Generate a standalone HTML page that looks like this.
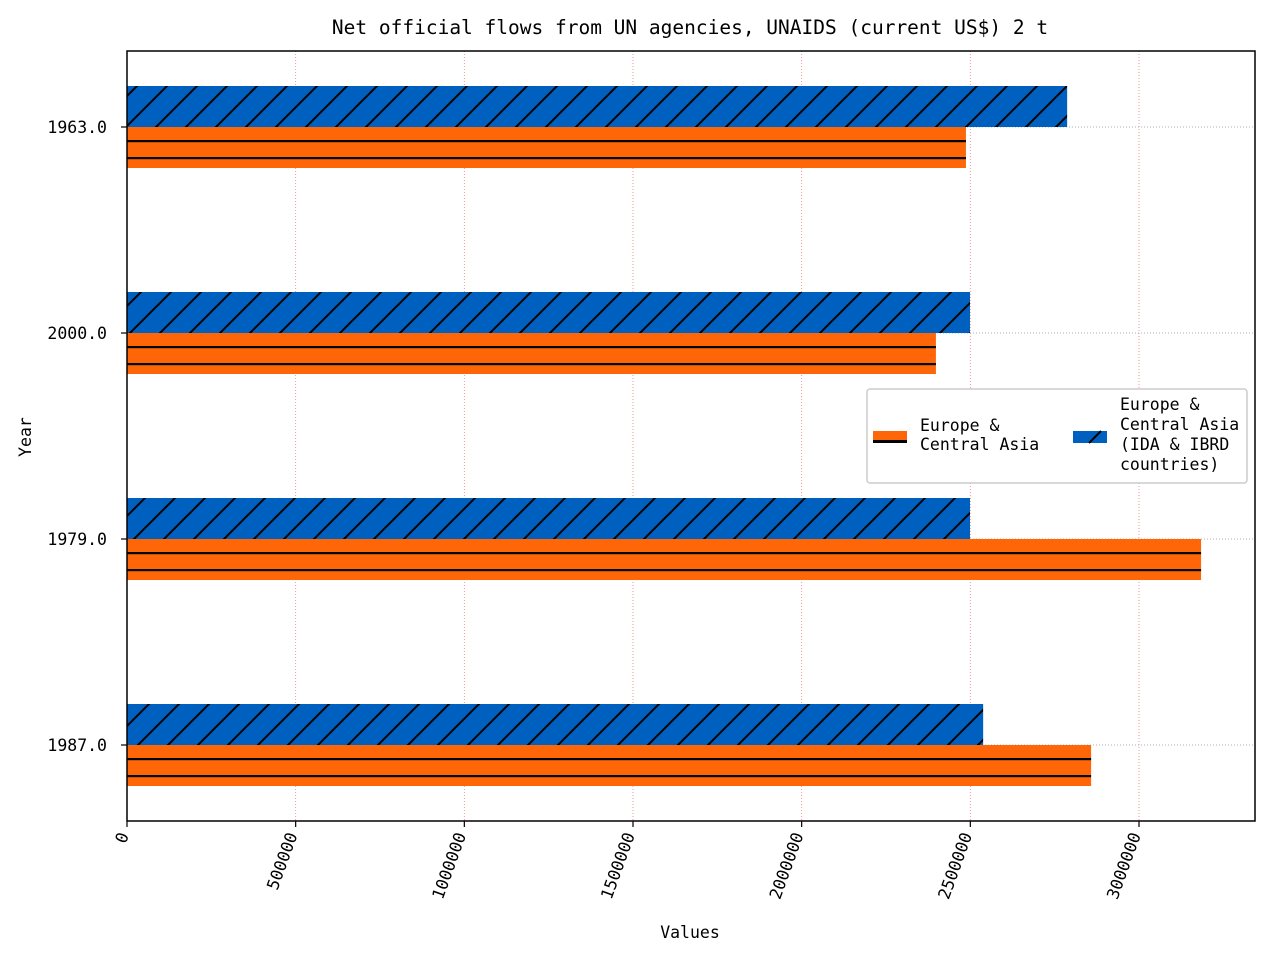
<!DOCTYPE html>
<html><head><meta charset="utf-8"><style>
body{margin:0;background:#fff}
svg text{font-family:"DejaVu Sans Mono","Liberation Mono",monospace;fill:#000}
</style></head><body>
<svg id="chart" width="1280" height="960" xmlns="http://www.w3.org/2000/svg">
<defs>
<pattern id="dd" patternUnits="userSpaceOnUse" width="30" height="30" x="7" y="6">
<rect width="30" height="30" fill="#0060bf"/>
<path d="M-3,33 L33,-3 M-33,33 L3,-3 M27,33 L63,-3" stroke="#000" stroke-width="2"/></pattern>
</defs>
<rect x="0" y="0" width="1280" height="960" fill="#fff"/>
<text x="690" y="34" font-size="19.5" text-anchor="middle">Net official flows from UN agencies, UNAIDS (current US$) 2 t</text>
<g id="grid"></g>
<g id="bars"></g>
<rect x="127" y="51" width="1128" height="770" fill="none" stroke="#000" stroke-width="1.5"/>
<g id="axes"></g>
<text x="690" y="938" font-size="16.5" text-anchor="middle">Values</text>
<text transform="translate(31,437) rotate(-90)" font-size="16.5" text-anchor="middle">Year</text>
<g>
<rect x="867" y="389" width="380" height="94" rx="3" fill="#fff" stroke="#ccc" stroke-width="1.5"/>
<rect x="873" y="431" width="34" height="10" fill="#ff6608"/>
<rect x="873" y="440" width="34" height="3" fill="#000"/>
<text font-size="16.5" x="920" y="431">Europe &amp;<tspan x="920" dy="19">Central Asia</tspan></text>
<rect x="1073" y="431" width="34" height="12" fill="#0060bf"/>
<path d="M1089,443 L1101,431" stroke="#000" stroke-width="2"/>
<text font-size="16.5" x="1120" y="410">Europe &amp;<tspan x="1120" dy="20">Central Asia</tspan><tspan x="1120" dy="20">(IDA &amp; IBRD</tspan><tspan x="1120" dy="20">countries)</tspan></text>
</g>
</svg>
<script>
const categories = ["1963.0","2000.0","1979.0","1987.0"];
const europeValues = [2487000, 2398000, 3184000, 2858000];
const idaIbrdValues = [2787000, 2499000, 2499000, 2538000];
const xTicks = [0,500000,1000000,1500000,2000000,2500000,3000000];
const NS="http://www.w3.org/2000/svg";
const X0=127, XPER=(1139-127)/3000000;
function xs(v){return X0+v*XPER;}
function ys(i){return 127+i*206;}
function mk(tag,attrs,parent){const e=document.createElementNS(NS,tag);for(const k in attrs)e.setAttribute(k,attrs[k]);parent.appendChild(e);return e;}
const grid=document.getElementById('grid'),bars=document.getElementById('bars'),axes=document.getElementById('axes');
xTicks.forEach(t=>{
  const x=xs(t);
  if(t>0){const g=mk('line',{x1:x,x2:x,y1:51,y2:821,stroke:'#f08080','stroke-width':0.8,'stroke-dasharray':'1,2'},grid);
  
  }
  mk('line',{x1:x,x2:x,y1:821,y2:827,stroke:'#000','stroke-width':1.2},axes);
  const tx=mk('text',{transform:`translate(${x+2},${835}) rotate(-70)`,'font-size':16.5,'text-anchor':'end'},axes);
  tx.textContent=String(t);
  
  
});
categories.forEach((c,i)=>{
  const y=ys(i);
  const g=mk('line',{x1:127,x2:1255,y1:y,y2:y,stroke:'#999','stroke-width':0.8,'stroke-dasharray':'1,2'},grid);
  
  
  const b=mk('rect',{x:X0,y:y-41,width:xs(idaIbrdValues[i])-X0,height:41,fill:'url(#dd)'},bars);
  
  
  const w=xs(europeValues[i])-X0;
  const o=mk('rect',{x:X0,y:y,width:w,height:41,fill:'#ff6608'},bars);
  
  
  [14,31].forEach(d=>{mk('rect',{x:X0,y:y+d-1,width:w,height:2.2,fill:'#000'},bars);});
  mk('line',{x1:121,x2:127,y1:y,y2:y,stroke:'#000','stroke-width':1.2},axes);
  const t=mk('text',{x:107,y:y+6,'font-size':16.5,'text-anchor':'end'},axes);
  t.textContent=c;
  
  
});
</script>
</body></html>
